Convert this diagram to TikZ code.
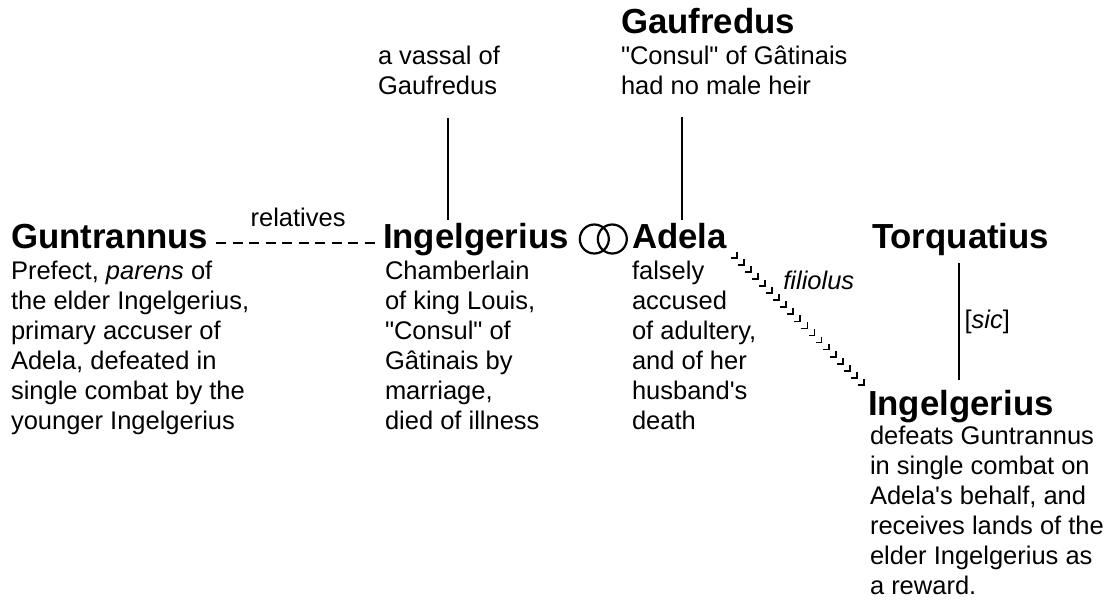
\documentclass[tikz,border=0pt]{standalone}
\usepackage{fontspec}
\setmainfont{Liberation Sans}[Ligatures=TeXOff]
\usetikzlibrary{arrows.meta,positioning,calc}

\newcommand{\headsize}{\fontsize{17.4}{20}\selectfont\bfseries}
\newcommand{\bodysize}{\fontsize{12.75}{15}\selectfont}

\begin{document}
\begin{tikzpicture}[>=Latex, x=0.5pt, y=-0.5pt]
			\tikzstyle{head}=[inner sep=0pt, outer sep=0pt, anchor=base west, font=\headsize]
			\tikzstyle{desc}=[inner sep=0pt, outer sep=0pt, align=left, font=\bodysize, execute at begin node={\strut}]
			\tikzstyle{lbl}=[inner sep=0pt, outer sep=0pt, font=\bodysize]
			\tikzstyle{kin}=[line width=1.3pt]
			\tikzstyle{rel}=[line width=1pt, dash pattern=on 5pt off 3.25pt]
			\tikzstyle{hook}=[line width=0.9pt]
			\tikzstyle{ring}=[line width=1.1pt]
			\useasboundingbox (0,0) rectangle (1108,601);
			% top row
			\node[head] (gauf) at (621,33) {Gaufredus};
			\node[desc, below right=6.5pt and 0pt of gauf.base west] (gaufTxt) {"Consul" of Gâtinais\\had no male heir};
			\node[desc, anchor=north west] (vassal) at (378,46) {a vassal of\\Gaufredus};
			% main row
			\node[head] (gun) at (11,248) {Guntrannus};
			\node[desc, below right=6.5pt and 0pt of gun.base west] (gunTxt) {Prefect, \textit{parens} of\\the elder Ingelgerius,\\primary accuser of\\Adela, defeated in\\single combat by the\\younger Ingelgerius};
			\node[head] (ingA) at (383,248) {Ingelgerius};
			\node[desc, below right=6.5pt and 1pt of ingA.base west] (ingATxt) {Chamberlain\\of king Louis,\\"Consul" of\\Gâtinais by\\marriage,\\died of illness};
			\node[head] (adela) at (632,248) {Adela};
			\node[desc, below right=6.5pt and 0pt of adela.base west] (adelaTxt) {falsely\\accused\\of adultery,\\and of her\\husband's\\death};
			\node[head] (torq) at (872,248) {Torquatius};
			% bottom right
			\node[head] (ingB) at (868,415) {Ingelgerius};
			\node[desc, below right=5.5pt and 1pt of ingB.base west] (ingBTxt) {defeats Guntrannus\\in single combat on\\Adela's behalf, and\\receives lands of the\\elder Ingelgerius as\\a reward.};
			% lines
			\draw[rel] ([shift={(8,-5)}]gun.base east) -- ([shift={(-3,-5)}]ingA.base west) node[lbl, midway, above=8pt] (relLbl) {relatives};
			\draw[kin] ([shift={(70,15)}]vassal.south west) -- ([shift={(65,-3)}]ingA.north west);
			\draw[kin] ([shift={(61,13)}]gaufTxt.south west) -- ([shift={(50,-3)}]adela.north west);
			\draw[kin] ([shift={(87,8)}]torq.south west) -- ([shift={(91,-10)}]ingB.north west) node[lbl, midway, right=2.75pt] (sicLbl) {[\textit{sic}]};
			\coordinate (wed) at ($(ingA.base east)!0.5!(adela.base west)+(3,-9)$);
			\draw[ring] ([xshift=-4.5pt]wed) circle[radius=7.25pt] ([xshift=4.5pt]wed) circle[radius=7.25pt];
			\coordinate (hookA) at ([shift={(10,10)}]adela.base east);
			\coordinate (hookB) at ([shift={(-4,-5)}]ingB.north west);
			\foreach \k in {0,...,18}
				\draw[hook] ($(hookA)!\k/18!(hookB)$) ++(-6,0) -- ++(6,0) -- ++(0,-6);
			\node[lbl, anchor=base west] (fil) at ($(hookA)!0.5!(hookB)+(-17,-32)$) {\textit{filiolus}};
		\end{tikzpicture}
\end{document}
